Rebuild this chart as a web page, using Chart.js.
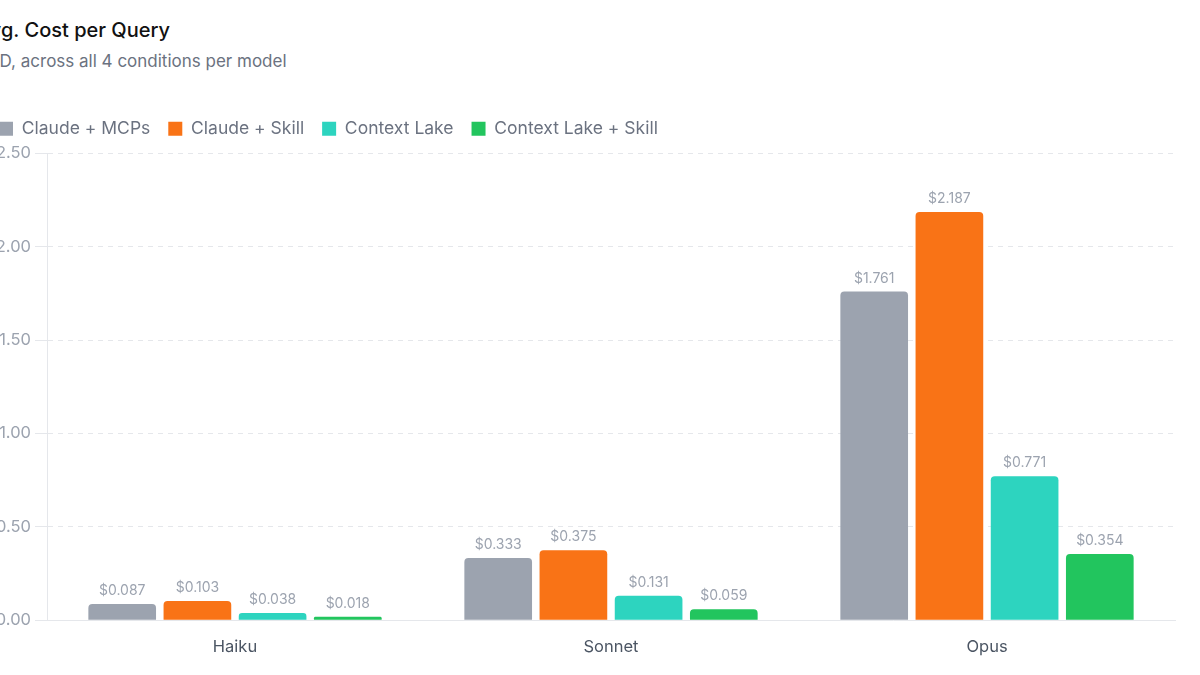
<!DOCTYPE html>
<html lang="en">
<head>
<meta charset="UTF-8" />
<title>Avg. Cost per Query</title>
<style>
  html, body { margin: 0; padding: 0; background: #fff; overflow: hidden; }
  body { width: 1200px; height: 675px; position: relative; font-family: 'Inter', 'Noto Sans', Arial, sans-serif; }
  .title { position: absolute; left: -23px; top: 18px; font-size: 20px; font-weight: 500; color: #111; white-space: nowrap; }
  .subtitle { position: absolute; left: -24px; top: 51px; font-size: 17px; color: #6b7280; white-space: nowrap; }
  .chart-box { position: absolute; left: -19px; top: 102px; width: 1219px; height: 573px; }
</style>
</head>
<body>

<div class="title">Avg. Cost per Query</div>
<div class="subtitle">USD, across all 4 conditions per model</div>

<div class="chart-box"><canvas id="chartCost"></canvas></div>

<script src="https://cdn.jsdelivr.net/npm/chart.js"></script>
<script>
  // data
  const models = ["Haiku", "Sonnet", "Opus"];
  const seriesNames = ["Claude + MCPs", "Claude + Skill", "Context Lake", "Context Lake + Skill"];
  const claudeMcps = [0.087, 0.333, 1.761];
  const claudeSkill = [0.103, 0.375, 2.187];
  const contextLake = [0.038, 0.131, 0.771];
  const contextLakeSkill = [0.018, 0.059, 0.354];
  const yTicks = [0, 0.5, 1.0, 1.5, 2.0, 2.5];

  const colors = ["#9ca3af", "#f97316", "#2dd4bf", "#22c55e"];
  const FONT = "'Inter', 'Noto Sans', Arial, sans-serif";

  // value labels above each bar
  const barLabels = {
    id: "barLabels",
    afterDatasetsDraw(chart) {
      const ctx = chart.ctx;
      ctx.save();
      ctx.font = "14px " + FONT;
      ctx.fillStyle = "#9ca3af";
      ctx.textAlign = "center";
      ctx.textBaseline = "bottom";
      chart.data.datasets.forEach((ds, i) => {
        chart.getDatasetMeta(i).data.forEach((bar, j) => {
          ctx.fillText("$" + ds.data[j].toFixed(3), bar.x, bar.y - 6);
        });
      });
      ctx.restore();
    },
  };

  // a bit more room between legend and plot
  const legendGap = {
    id: "legendGap",
    beforeLayout(chart) {
      const lg = chart.legend;
      if (!lg || lg._gapPatched) return;
      const fit = lg.fit;
      lg.fit = function () { fit.call(this); this.height += 6; };
      lg._gapPatched = true;
    },
  };

  new Chart(document.getElementById("chartCost"), {
    type: "bar",
    data: {
      labels: models,
      datasets: [claudeMcps, claudeSkill, contextLake, contextLakeSkill].map((d, i) => ({
        label: seriesNames[i],
        data: d,
        backgroundColor: colors[i],
        borderRadius: { topLeft: 4, topRight: 4 },
        borderSkipped: "bottom",
      })),
    },
    options: {
      responsive: true,
      maintainAspectRatio: false,
      animation: false,
      layout: { padding: { top: 0, right: 25, bottom: 9, left: 0 } },
      plugins: {
        legend: {
          position: "top",
          align: "start",
          labels: {
            boxWidth: 14,
            boxHeight: 14,
            padding: 18,
            color: "#6b7280",
            font: { size: 17.5, family: FONT },
          },
        },
        tooltip: { enabled: false },
      },
      scales: {
        x: {
          grid: { display: false },
          border: { display: true, color: "#e5e7eb" },
          ticks: { color: "#4b5563", padding: 9, font: { size: 16.5, family: FONT } },
        },
        y: {
          min: 0,
          max: 2.5,
          afterBuildTicks: (axis) => { axis.ticks = yTicks.map((v) => ({ value: v })); },
          afterFit: (axis) => { axis.width = 66; },
          grid: { color: "#e5e7eb", tickLength: 12 },
          border: { display: true, color: "#e5e7eb", dash: [5, 5] },
          ticks: {
            color: "#9ca3af",
            padding: 4,
            font: { size: 16.5, family: FONT },
            callback: (v) => "$" + Number(v).toFixed(2),
          },
        },
      },
    },
    plugins: [barLabels, legendGap],
  });
</script>

</body>
</html>
